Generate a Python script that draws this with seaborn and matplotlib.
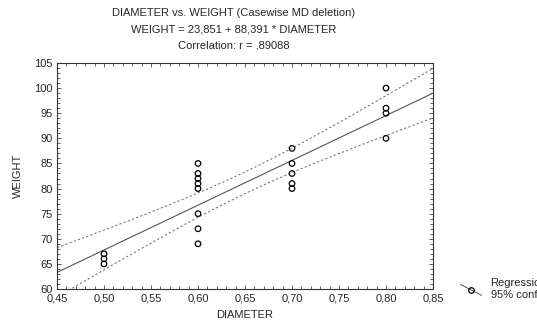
import numpy as np
import pandas as pd
import matplotlib
matplotlib.use("Agg")
import matplotlib.pyplot as plt
import seaborn as sns
from matplotlib.lines import Line2D
from matplotlib.legend_handler import HandlerLine2D
from matplotlib.ticker import MultipleLocator, FuncFormatter

# data
diameter = [0.50, 0.50, 0.50,
            0.60, 0.60, 0.60, 0.60, 0.60, 0.60, 0.60, 0.60,
            0.70, 0.70, 0.70, 0.70, 0.70,
            0.80, 0.80, 0.80, 0.80]
weight = [65, 66, 67,
          85, 83, 82, 81, 80, 75, 72, 69,
          88, 85, 83, 81, 80,
          100, 96, 95, 90]

title_lines = ["DIAMETER vs. WEIGHT (Casewise MD deletion)",
               "WEIGHT = 23,851 + 88,391 * DIAMETER",
               "Correlation: r = ,89088"]

df = pd.DataFrame({"DIAMETER": diameter, "WEIGHT": weight})

sns.set_style("white")
plt.rcParams["font.family"] = ["Liberation Sans", "DejaVu Sans"]

fig = plt.figure(figsize=(5.37, 3.26), dpi=100)
ax = fig.add_axes([57 / 537, 1 - 289 / 326, 376 / 537, 226 / 326])

# regression line + 95% confidence band (computed from the data)
x = df["DIAMETER"].to_numpy()
y = df["WEIGHT"].to_numpy()
n = len(x)
b, a = np.polyfit(x, y, 1)
resid = y - (a + b * x)
s = np.sqrt(np.sum(resid ** 2) / (n - 2))
sxx = np.sum((x - x.mean()) ** 2)
t = 2.1009  # t(0.975, 18)
xs = np.linspace(0.45, 0.85, 100)
fit = a + b * xs
half = t * s * np.sqrt(1 / n + (xs - x.mean()) ** 2 / sxx)

ax.plot(xs, fit, color="#555555", lw=0.8)
ax.plot(xs, fit + half, color="#777777", lw=0.8, ls=(0, (2, 2)))
ax.plot(xs, fit - half, color="#777777", lw=0.8, ls=(0, (2, 2)))

sns.scatterplot(data=df, x="DIAMETER", y="WEIGHT", ax=ax, marker="o",
                facecolor="none", edgecolor="black", linewidth=0.9, s=16,
                zorder=3)

ax.set_xlim(0.45, 0.85)
ax.set_ylim(60, 105)
ax.xaxis.set_major_locator(MultipleLocator(0.05))
ax.xaxis.set_minor_locator(MultipleLocator(0.01))
ax.yaxis.set_major_locator(MultipleLocator(5))
ax.yaxis.set_minor_locator(MultipleLocator(1))
ax.xaxis.set_major_formatter(FuncFormatter(lambda v, p: f"{v:.2f}".replace(".", ",")))
ax.tick_params(which="both", direction="in", top=True, right=True,
               bottom=True, left=True, color="#444444", labelsize=8, pad=3)
ax.tick_params(which="major", length=3, width=0.6)
ax.tick_params(which="minor", length=2, width=0.6)
for sp in ax.spines.values():
    sp.set_color("#333333")
    sp.set_linewidth(0.8)

ax.set_xlabel("DIAMETER", fontsize=8, labelpad=5)
ax.set_ylabel("WEIGHT", fontsize=8, labelpad=8)

for i, line in enumerate(title_lines):
    fig.text(234 / 537, 1 - (13 + 16 * i) / 326, line, ha="center",
             va="center", fontsize=8)


class SlantHandler(HandlerLine2D):
    def create_artists(self, legend, orig_handle, xdescent, ydescent,
                       width, height, fontsize, trans):
        seg = Line2D([0, width], [height * 1.1, -height * 0.3],
                     color="#555555", lw=0.7, transform=trans)
        mk = Line2D([width / 2], [height * 0.4], marker="o", ms=4,
                    mfc="none", mec="black", mew=0.9, ls="none",
                    transform=trans)
        return [seg, mk]


handle = Line2D([], [], color="#555555", marker="o", mfc="none", mec="black")
fig.legend([handle], ["Regression\n95% confid."],
           handler_map={Line2D: SlantHandler()},
           loc="center left", bbox_to_anchor=(455 / 537, 1 - 289 / 326),
           frameon=False, fontsize=8, handlelength=1.9, handletextpad=0.8,
           borderpad=0, labelspacing=0)

fig.savefig("out.png", dpi=100)
